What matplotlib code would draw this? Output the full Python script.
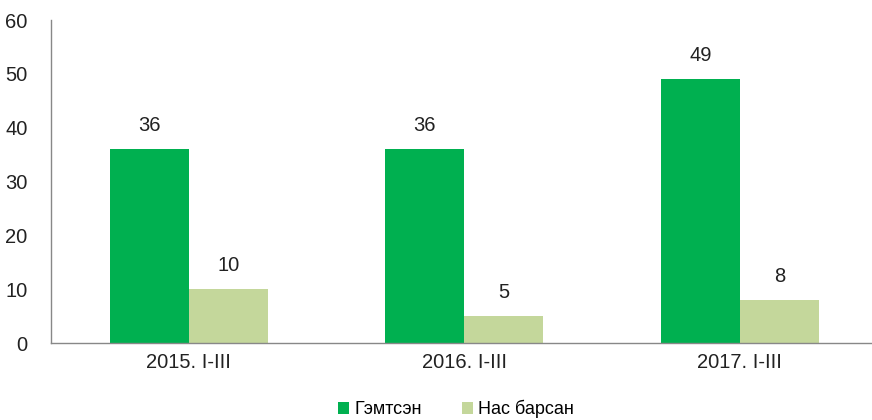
import matplotlib

matplotlib.use("Agg")
import matplotlib.pyplot as plt
import numpy as np

plt.rcParams["font.family"] = ["Liberation Sans", "DejaVu Sans"]

categories = ["2015. I-III", "2016. I-III", "2017. I-III"]
injured = [36, 36, 49]
deaths = [10, 5, 8]
series_names = ["Гэмтсэн", "Нас барсан"]
colors = ["#00B050", "#C4D79B"]

fig = plt.figure(figsize=(8.72, 4.2), dpi=100)
ax = fig.add_axes([0.0585, 0.183, 0.948, 0.769])

x = np.arange(len(categories))
width = 0.287
bars1 = ax.bar(x - width / 2, injured, width, color=colors[0], label=series_names[0])
bars2 = ax.bar(x + width / 2, deaths, width, color=colors[1], label=series_names[1])

for bars in (bars1, bars2):
    for bar in bars:
        ax.text(bar.get_x() + bar.get_width() / 2, bar.get_height() + 2.6,
                f"{bar.get_height():.0f}", ha="center", va="bottom", fontsize=14.5, color="#222222")

ax.set_xlim(-0.5, 2.5)
ax.set_ylim(0, 60)
ax.set_yticks(range(0, 61, 10))
ax.set_xticks(x)
ax.set_xticklabels(categories)
ax.tick_params(axis="both", length=0, labelsize=14.5, colors="#222222")
ax.tick_params(axis="y", pad=17)
ax.tick_params(axis="x", pad=7)
for side in ("top", "right"):
    ax.spines[side].set_visible(False)
for side in ("left", "bottom"):
    ax.spines[side].set_color("#888888")
    ax.spines[side].set_linewidth(1.0)

fig.legend(loc="lower center", bbox_to_anchor=(0.523, -0.035), ncol=2, frameon=False,
           fontsize=13, handlelength=0.6, handleheight=0.6, handletextpad=0.3, columnspacing=2.2)

fig.savefig("out.png", dpi=100)
